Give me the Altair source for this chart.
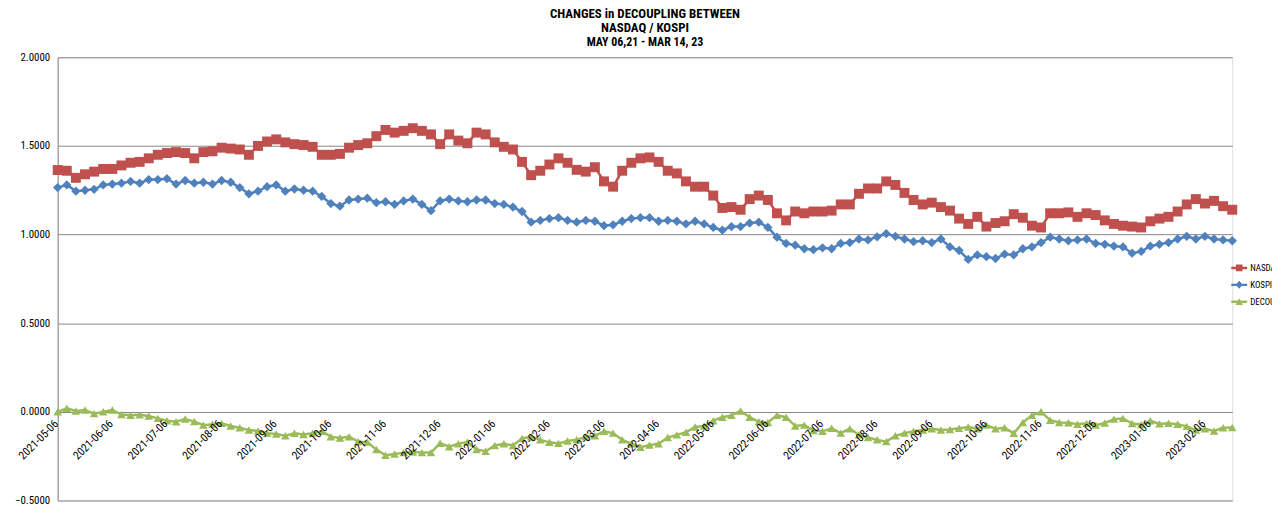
import altair as alt
import pandas as pd

FONT = "Liberation Sans Narrow, Roboto Condensed, Liberation Sans, sans-serif"

TITLE_LINES = ["CHANGES in DECOUPLING  BETWEEN", "NASDAQ / KOSPI"]
SUBTITLE = "MAY 06,21 - MAR 14, 23"

SERIES = ["NASDAQ", "KOSPI", "DECOUPLING"]
COLORS = ["#C0504D", "#4F81BD", "#9BBB59"]
SHAPES = ["square", "diamond", "triangle-up"]
MARKER_SIZES = [100, 75, 180]
# legend glyphs: a short line with the series marker on it
LEGEND_GLYPHS = [
    "M-1,-0.15H1V0.15H-1Z M-0.42,-0.42H0.42V0.42H-0.42Z",
    "M-1,-0.15H1V0.15H-1Z M0,-0.5L0.45,0L0,0.5L-0.45,0Z",
    "M-1,-0.15H1V0.15H-1Z M0,-0.45L0.48,0.4L-0.48,0.4Z",
]

nasdaq = [
    1.364, 1.36, 1.32, 1.34, 1.355, 1.37, 1.37, 1.39, 1.405, 1.41,
    1.43, 1.45, 1.46, 1.465, 1.46, 1.43, 1.465, 1.47, 1.49, 1.485,
    1.48, 1.45, 1.50, 1.525, 1.537, 1.52, 1.51, 1.505, 1.495, 1.45,
    1.45, 1.455, 1.49, 1.505, 1.515, 1.555, 1.59, 1.575, 1.585, 1.60,
    1.585, 1.565, 1.51, 1.565, 1.53, 1.515, 1.575, 1.565, 1.52, 1.495,
    1.48, 1.41, 1.335, 1.36, 1.395, 1.43, 1.405, 1.365, 1.355, 1.38,
    1.30, 1.27, 1.36, 1.405, 1.43, 1.435, 1.41, 1.36, 1.345, 1.30,
    1.27, 1.27, 1.22, 1.15, 1.155, 1.14, 1.20, 1.22, 1.195, 1.12,
    1.08, 1.13, 1.12, 1.13, 1.13, 1.135, 1.17, 1.17, 1.23, 1.26,
    1.26, 1.30, 1.28, 1.235, 1.195, 1.17, 1.18, 1.155, 1.135, 1.09,
    1.06, 1.10, 1.045, 1.065, 1.075, 1.115, 1.095, 1.05, 1.04, 1.12,
    1.12, 1.125, 1.10, 1.12, 1.11, 1.08, 1.06, 1.05, 1.045, 1.04,
    1.075, 1.09, 1.10, 1.13, 1.17, 1.20, 1.175, 1.19, 1.16, 1.14,
]

kospi = [
    1.265, 1.28, 1.245, 1.25, 1.255, 1.28, 1.285, 1.29, 1.30, 1.29,
    1.31, 1.31, 1.315, 1.285, 1.305, 1.29, 1.295, 1.285, 1.305, 1.295,
    1.265, 1.23, 1.245, 1.27, 1.28, 1.245, 1.257, 1.25, 1.245, 1.215,
    1.175, 1.16, 1.195, 1.20, 1.205, 1.18, 1.185, 1.17, 1.19, 1.20,
    1.17, 1.135, 1.19, 1.20, 1.19, 1.185, 1.195, 1.195, 1.175, 1.17,
    1.155, 1.13, 1.07, 1.08, 1.09, 1.095, 1.08, 1.07, 1.08, 1.075,
    1.05, 1.055, 1.075, 1.09, 1.095, 1.095, 1.075, 1.08, 1.075, 1.06,
    1.075, 1.06, 1.04, 1.025, 1.045, 1.045, 1.065, 1.07, 1.04, 0.985,
    0.95, 0.94, 0.92, 0.915, 0.925, 0.92, 0.95, 0.955, 0.975, 0.97,
    0.987, 1.005, 0.99, 0.975, 0.96, 0.965, 0.955, 0.975, 0.93, 0.91,
    0.86, 0.885, 0.875, 0.865, 0.89, 0.885, 0.92, 0.93, 0.955, 0.985,
    0.975, 0.965, 0.97, 0.975, 0.95, 0.945, 0.935, 0.93, 0.895, 0.905,
    0.935, 0.945, 0.955, 0.975, 0.99, 0.975, 0.99, 0.975, 0.97, 0.965,
]

deco = [
    0.0, 0.02, 0.005, 0.01, -0.01, 0.0, 0.01, -0.015, -0.019, -0.017,
    -0.024, -0.037, -0.05, -0.056, -0.04, -0.055, -0.075, -0.07, -0.065, -0.08,
    -0.09, -0.103, -0.108, -0.12, -0.125, -0.135, -0.121, -0.128, -0.12, -0.11,
    -0.14, -0.148, -0.14, -0.168, -0.17, -0.213, -0.245, -0.238, -0.23, -0.226,
    -0.23, -0.23, -0.177, -0.197, -0.18, -0.17, -0.212, -0.222, -0.19, -0.18,
    -0.19, -0.15, -0.14, -0.158, -0.172, -0.178, -0.165, -0.158, -0.14, -0.135,
    -0.11, -0.12, -0.158, -0.18, -0.2, -0.187, -0.18, -0.145, -0.13, -0.115,
    -0.085, -0.08, -0.05, -0.03, -0.02, 0.005, -0.03, -0.056, -0.06, -0.02,
    -0.03, -0.08, -0.075, -0.105, -0.11, -0.093, -0.12, -0.095, -0.13, -0.145,
    -0.158, -0.168, -0.135, -0.12, -0.11, -0.103, -0.095, -0.103, -0.1, -0.093,
    -0.085, -0.095, -0.075, -0.095, -0.09, -0.121, -0.06, -0.02, 0.0, -0.047,
    -0.06, -0.062, -0.07, -0.065, -0.075, -0.063, -0.041, -0.037, -0.066, -0.072,
    -0.05, -0.068, -0.064, -0.07, -0.082, -0.103, -0.095, -0.108, -0.09, -0.088,
]

TICK_LABELS = [
    "2021-05-06", "2021-06-06", "2021-07-06", "2021-08-06", "2021-09-06",
    "2021-10-06", "2021-11-06", "2021-12-06", "2022-01-06", "2022-02-06",
    "2022-03-06", "2022-04-06", "2022-05-06", "2022-06-06", "2022-07-06",
    "2022-08-06", "2022-09-06", "2022-10-06", "2022-11-06", "2022-12-06",
    "2023-01-06", "2023-02-06",
]
SAMPLES_PER_LABEL = 6
Y_TICKS = [-0.5, 0.0, 0.5, 1.0, 1.5, 2.0]

rows = []
for name, vals in zip(SERIES, [nasdaq, kospi, deco]):
    for i, v in enumerate(vals):
        rows.append({"i": i, "series": name, "value": v})
df = pd.DataFrame(rows)

ticks_df = pd.DataFrame({
    "i": [k * SAMPLES_PER_LABEL for k in range(len(TICK_LABELS))],
    "label": TICK_LABELS,
    "value": [0.0] * len(TICK_LABELS),
})

n_last = len(nasdaq) - 1
x_enc = alt.X("i:Q", scale=alt.Scale(domain=[0, n_last], nice=False, zero=False), axis=None)
y_enc = alt.Y(
    "value:Q",
    scale=alt.Scale(domain=[-0.5, 2.0], nice=False),
    axis=alt.Axis(
        values=Y_TICKS, format=".4f", title=None, grid=True, ticks=False,
        labelPadding=8, domainColor="#868686", gridColor="#868686",
        labelFontSize=11, labelColor="#000000", labelFont=FONT,
    ),
)
color_scale = alt.Scale(domain=SERIES, range=COLORS)

legend = alt.Legend(
    title=None, orient="none", legendX=1181, legendY=204,
    labelFont=FONT, labelFontSize=9, labelColor="#000000",
    symbolSize=256, rowPadding=4, labelOffset=3, symbolStrokeWidth=0,
)

lines = alt.Chart(df).mark_line(strokeWidth=2.5).encode(
    x=x_enc, y=y_enc,
    color=alt.Color("series:N", scale=color_scale, legend=None),
)

points = alt.Chart(df).mark_point(filled=True, opacity=1).encode(
    x=x_enc, y=y_enc,
    color=alt.Color("series:N", scale=color_scale, legend=None),
    shape=alt.Shape("series:N", scale=alt.Scale(domain=SERIES, range=SHAPES), legend=None),
    size=alt.Size("series:N", scale=alt.Scale(domain=SERIES, range=MARKER_SIZES), legend=None),
)

# legend carrier: draws no marks, only provides the legend entries
legend_layer = alt.Chart(df).transform_filter("false").mark_point(filled=True, opacity=1).encode(
    x=x_enc, y=y_enc,
    color=alt.Color("series:N", scale=color_scale, legend=legend),
    shape=alt.Shape("series:N", scale=alt.Scale(domain=SERIES, range=LEGEND_GLYPHS), legend=legend),
)

labels = alt.Chart(ticks_df).mark_text(
    angle=315, align="right", baseline="middle", dy=7, dx=-8,
    font=FONT, fontSize=11.5, color="#000000",
).encode(x=x_enc, y=alt.Y("value:Q"), text="label:N")

chart = alt.layer(lines, points, legend_layer, labels).resolve_scale(
    color="independent", shape="independent"
).properties(
    width=1182, height=446,
    title=alt.TitleParams(
        text=TITLE_LINES, subtitle=SUBTITLE, anchor="middle",
        font=FONT, fontSize=13, fontWeight="bold", color="#000000", lineHeight=14.5,
        subtitleFont=FONT, subtitleFontSize=12, subtitleFontWeight="bold",
        subtitleColor="#000000", subtitlePadding=2, offset=3,
    ),
    autosize=alt.AutoSizeParams(type="none"),
    padding={"left": 50, "top": 48, "right": 40, "bottom": 10},
).configure_view(stroke=None).configure(background="white")

chart.save("out.html", embed_options={"renderer": "svg", "actions": False})
